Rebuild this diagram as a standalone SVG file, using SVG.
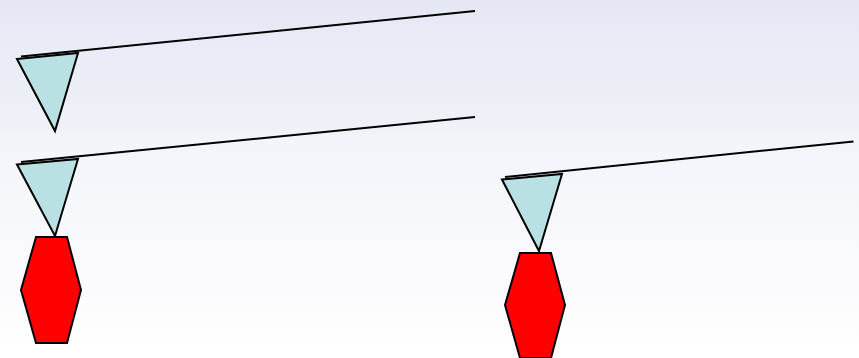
<svg xmlns="http://www.w3.org/2000/svg" width="859" height="358" viewBox="0 0 859 358">
<defs>
<linearGradient id="bg" x1="0" y1="0" x2="0" y2="1">
<stop offset="0" stop-color="#e5e7f5"/>
<stop offset="0.37" stop-color="#f0f2f8"/>
<stop offset="0.38" stop-color="#f3f4fa"/>
<stop offset="1" stop-color="#ffffff"/>
</linearGradient>
</defs>
<style>
.tri{fill:#b9e0e3;stroke:#000;stroke-width:2;stroke-linejoin:miter}
.hex{fill:#ff0000;stroke:#000;stroke-width:2}
.ln{fill:none;stroke:#000;stroke-width:2}
</style>
<rect x="0" y="0" width="859" height="358" fill="url(#bg)"/>
<g id="connectors">
<line class="ln" x1="21" y1="56.5" x2="475" y2="11"/>
<line class="ln" x1="21" y1="162" x2="475" y2="117"/>
<line class="ln" x1="505" y1="177" x2="853.5" y2="141.5"/>
</g>
<g id="tri1"><polygon class="tri" points="17,59 78,53 55,131"/></g>
<g id="tri2"><polygon class="tri" points="17,164.5 78,159 55,236"/></g>
<g id="hex1"><polygon class="hex" points="36,237 67,237 81,290 67,343 36,343 21,290"/></g>
<g id="tri3"><polygon class="tri" points="502,179.5 562,174 539,251"/></g>
<g id="hex2"><polygon class="hex" points="520,253 551,253 565,305 551,358 520,358 505,305"/></g>
</svg>
